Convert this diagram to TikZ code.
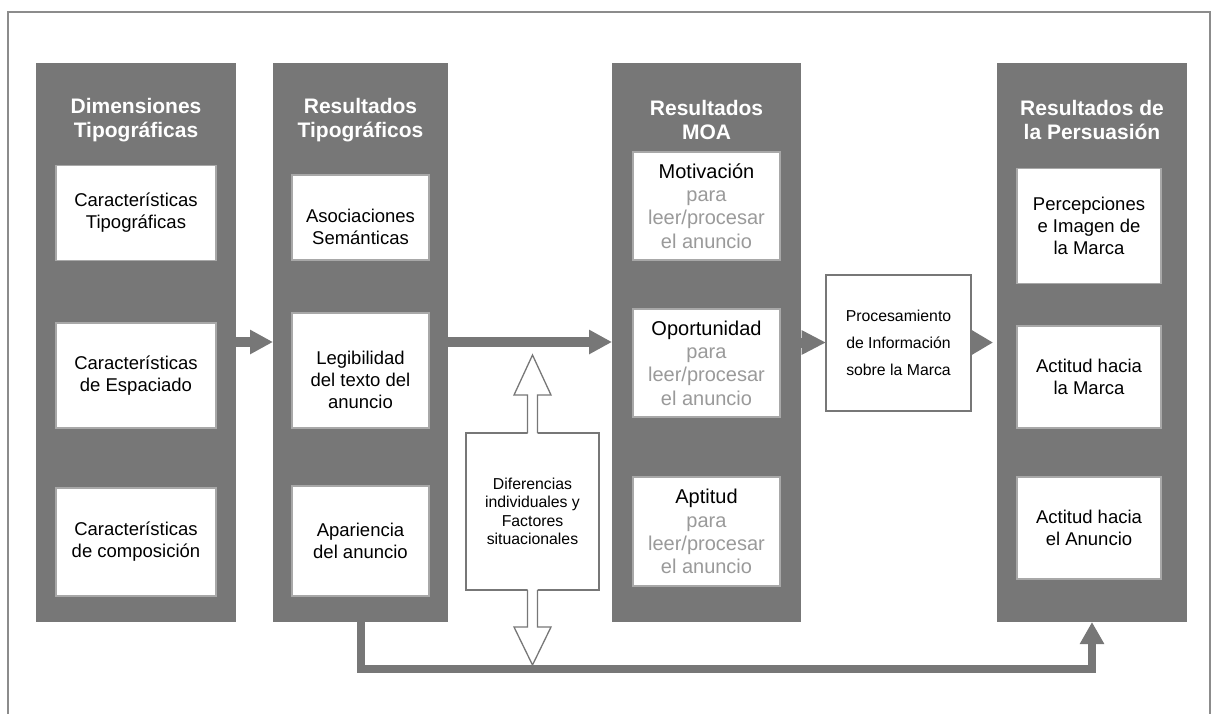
\documentclass[tikz,border=0pt]{standalone}
\usepackage{fontspec}
\setmainfont{Liberation Sans}
\usetikzlibrary{arrows.meta,calc}
\definecolor{dk}{HTML}{777777}
\definecolor{lt}{HTML}{A8A8A8}
\definecolor{gt}{HTML}{9A9A9A}
\definecolor{fr}{HTML}{8C8C8C}
\begin{document}
\begin{tikzpicture}[x=1pt,y=-1pt,
  col/.style={fill=dk, draw=none, minimum width=#1, minimum height=559pt, inner sep=0pt, outer sep=0pt},
  wbox/.style 2 args={fill=white, draw=lt, line width=1.5pt, minimum width=#1, minimum height=#2, inner sep=0pt, outer sep=0pt, align=center, font=\fontsize{18.5}{22}\selectfont},
  txt/.style={inner sep=0pt, align=center, font=\fontsize{18.5}{22}\selectfont},
  moa/.style 2 args={fill=white, draw=lt, line width=1.5pt, minimum width=#1, minimum height=#2, inner sep=0pt, outer sep=0pt, align=center, font=\fontsize{20}{23.3}\selectfont},
  ttl/.style={text=white, inner sep=0pt, align=center, font=\fontsize{21}{24}\selectfont\bfseries},
  gbox/.style 2 args={fill=white, draw=dk, line width=1.3pt, minimum width=#1, minimum height=#2, inner sep=0pt, outer sep=0pt, align=center},
  garrow/.style={draw=dk, line width=10pt, -{Triangle[length=#1,width=23pt]}},
  blockarrow/.style={draw=dk, line width=1.3pt, line join=miter}
]
\useasboundingbox (0,0) rectangle (1212,713);
% outer frame
\draw[fr, line width=1.5pt] (8,714) -- (8,12) -- (1210,12) -- (1210,714);

% columns
\node[col=200pt] (c1) at (136,342.5) {};
\node[col=175pt] (c2) at (360.5,342.5) {};
\node[col=189pt] (c3) at (706.5,342.5) {};
\node[col=190pt] (c4) at (1092,342.5) {};

% titles
\node[ttl] (t1) at (136,120) {Dimensiones\\Tipográficas};
\node[ttl] (t2) at (360.5,120) {Resultados\\Tipográficos};
\node[ttl] (t3) at (706.5,120) {Resultados\\MOA};
\node[ttl] (t4) at (1092,120) {Resultados de\\la Persuasión};

% column 1 boxes
\node[wbox={160pt}{95pt}] (c1b1) at (136,213) {Características\\Tipográficas};
\node[wbox={160pt}{105pt}] (c1b2) at (136,375.5) {Características\\de Espaciado};
\node[wbox={160pt}{108pt}] (c1b3) at (136,542) {Características\\de composición};

% column 2 boxes
\node[wbox={137pt}{85pt}] (c2b1) at (360.5,217.5) {};
\node[txt] (c2b1t) at ([yshift=-9pt]c2b1.center) {Asociaciones\\Semánticas};
\node[wbox={137pt}{115pt}] (c2b2) at (360.5,370.5) {};
\node[txt] (c2b2t) at ([yshift=-9pt]c2b2.center) {Legibilidad\\del texto del\\anuncio};
\node[wbox={137pt}{110pt}] (c2b3) at (360.5,541) {Apariencia\\del anuncio};

% column 3 boxes
\node[moa={147pt}{108pt}] (c3b1) at (706.5,206) {Motivación\\\textcolor{gt}{para}\\\textcolor{gt}{leer/procesar}\\\textcolor{gt}{el anuncio}};
\node[moa={147pt}{108pt}] (c3b2) at (706.5,363) {Oportunidad\\\textcolor{gt}{para}\\\textcolor{gt}{leer/procesar}\\\textcolor{gt}{el anuncio}};
\node[moa={147pt}{109pt}] (c3b3) at (706.5,531.5) {Aptitud\\\textcolor{gt}{para}\\\textcolor{gt}{leer/procesar}\\\textcolor{gt}{el anuncio}};

% column 4 boxes
\node[wbox={144pt}{115pt}] (c4b1) at (1089,226) {Percepciones\\e Imagen de\\la Marca};
\node[wbox={144pt}{102pt}] (c4b2) at (1089,377) {Actitud hacia\\la Marca};
\node[wbox={144pt}{102pt}] (c4b3) at (1089,528) {Actitud hacia\\el Anuncio};

% processing box
\node[gbox={145pt}{136pt}, font=\fontsize{15.8}{27}\selectfont] (proc) at (898.5,343) {Procesamiento\\de Información\\sobre la Marca};

% individual differences box
\node[gbox={133pt}{157pt}, font=\fontsize{15.8}{18.5}\selectfont] (dif) at (532.5,511.5) {Diferencias\\individuales y\\Factores\\situacionales};

% block double arrow
\fill[white] ($(dif.north)+(-5,1.5)$) -- ($(dif.north)+(-5,-38)$) -- ($(dif.north)+(-18.5,-38)$) -- ($(dif.north)+(0,-78)$) -- ($(dif.north)+(18.5,-38)$) -- ($(dif.north)+(5,-38)$) -- ($(dif.north)+(5,1.5)$) -- cycle;
\draw[blockarrow] ($(dif.north)+(-5,0)$) -- ($(dif.north)+(-5,-38)$) -- ($(dif.north)+(-18.5,-38)$) -- ($(dif.north)+(0,-78)$) -- ($(dif.north)+(18.5,-38)$) -- ($(dif.north)+(5,-38)$) -- ($(dif.north)+(5,0)$);
\fill[white] ($(dif.south)+(-5,-1.5)$) -- ($(dif.south)+(-5,37)$) -- ($(dif.south)+(-18.5,37)$) -- ($(dif.south)+(0,75)$) -- ($(dif.south)+(18.5,37)$) -- ($(dif.south)+(5,37)$) -- ($(dif.south)+(5,-1.5)$) -- cycle;
\draw[blockarrow] ($(dif.south)+(-5,0)$) -- ($(dif.south)+(-5,37)$) -- ($(dif.south)+(-18.5,37)$) -- ($(dif.south)+(0,75)$) -- ($(dif.south)+(18.5,37)$) -- ($(dif.south)+(5,37)$) -- ($(dif.south)+(5,0)$);

% connectors
\draw[garrow=23pt] (c1.east |- 0,342) -- (c2.west |- 0,342);
\draw[garrow=23pt] (c2.east |- 0,342) -- (c3.west |- 0,342);
\draw[garrow=24.5pt] (c3.east |- 0,342.5) -- (proc.west |- 0,342.5);
\draw[garrow=21pt, shorten >=4pt] (proc.east |- 0,342.5) -- (c4.west |- 0,342.5);
\draw[draw=dk, line width=8pt, line join=miter, -{Triangle[length=22pt,width=23pt]}] (c2.south) -- ++(0,46.5) -| (c4.south);
\end{tikzpicture}
\end{document}
